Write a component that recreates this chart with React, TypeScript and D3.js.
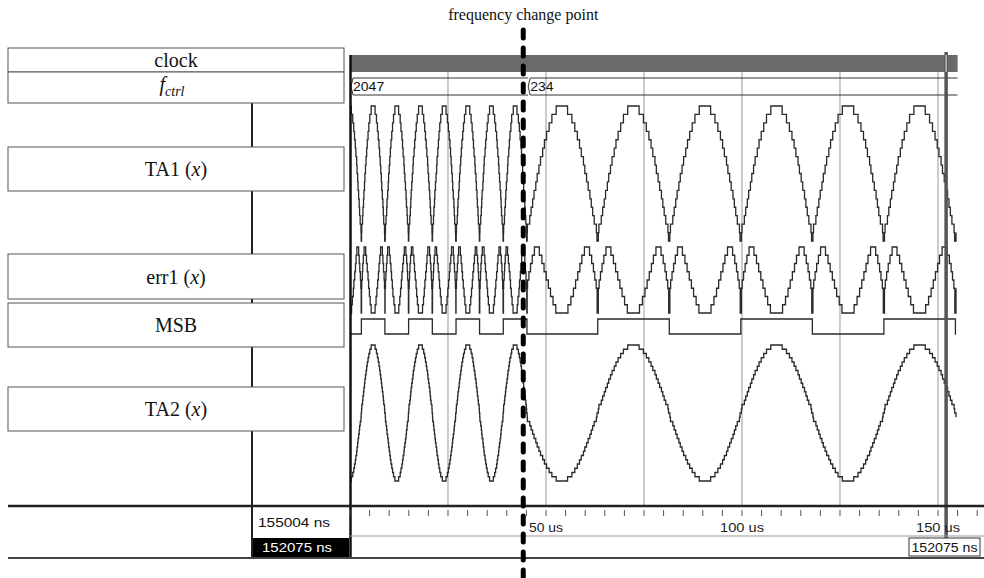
import * as d3 from 'd3';

// simulation window (us)
const SIM_END_US = 155.004;
const CURSOR_US = 152.075;
const CHANGE_MARK_US = 44.2;
const SAMPLE_US = 0.05;

// fctrl bus: value and the output period it gives (us per cycle)
const fctrlLabels = ['2047', '234'];
const fctrlStartUs = [0, 45.2];
const fctrlPeriodUs = [12.07, 36.5];
const startPhase = 0.763;

// TA1 magnitude: quarter-wave position where each of the 16 levels is reached
const ta1Thresholds = [0.02, 0.035, 0.1, 0.14, 0.18, 0.22, 0.27, 0.31, 0.36, 0.4, 0.46, 0.51, 0.57, 0.64, 0.72, 0.84];
// err1: quarter-wave position where each level starts, and that level (0..8)
const err1U = [0, 0.015, 0.04, 0.08, 0.12, 0.17, 0.23, 0.37, 0.44, 0.5, 0.56, 0.62, 0.68, 0.75, 0.83];
const err1Level = [0, 3, 4, 5, 6, 7, 8, 7, 6, 5, 4, 3, 2, 1, 0];

const gridUs = [25, 50, 75, 100, 125, 150];
const axisLabelUs = [50, 100, 150];
const nowLabel = '155004 ns';
const cursorLabel = '152075 ns';

type Sample = { t: number; ta1: number; err1: number; msb: number; ta2: number };

function buildSamples(): Sample[] {
  const out: Sample[] = [];
  let phase = startPhase;
  const n = Math.floor((SIM_END_US - 0.4) / SAMPLE_US);
  for (let i = 0; i <= n; i++) {
    const t = i * SAMPLE_US;
    let seg = 0;
    fctrlStartUs.forEach((s, k) => {
      if (t >= s) seg = k;
    });
    const p = phase % 1;
    const msb = p < 0.5 ? 1 : 0;
    const q = (p % 0.5) / 0.25;
    const u = q < 1 ? q : 2 - q;
    const ta1 = d3.bisectRight(ta1Thresholds, u);
    const err1 = err1Level[Math.max(0, d3.bisectRight(err1U, u) - 1)];
    out.push({ t, ta1, err1, msb, ta2: msb ? 16 + ta1 : 16 - ta1 });
    phase += SAMPLE_US / fctrlPeriodUs[seg];
  }
  return out;
}

const samples = buildSamples();

const xs = d3.scaleLinear().domain([0, SIM_END_US]).range([350, 957.6]);
const ticks = d3.range(0, 161, 5);

const rows = [
  { key: 'ta1', y: d3.scaleLinear().domain([0, 16]).range([241, 106]) },
  { key: 'err1', y: d3.scaleLinear().domain([0, 8]).range([313, 247]) },
  { key: 'msb', y: d3.scaleLinear().domain([0, 1]).range([334, 319]) },
  { key: 'ta2', y: d3.scaleLinear().domain([0, 32]).range([481, 345]) },
] as const;

const serif = "'Liberation Serif', 'Times New Roman', serif";
const sans = "'Liberation Sans', Arial, sans-serif";

function LabelBox({ y, h, children }: { y: number; h: number; children: React.ReactNode }) {
  return (
    <g>
      <rect x={8} y={y} width={336} height={h} fill="#fff" stroke="#555" strokeWidth={1} />
      <text x={176} y={y + h / 2 + 7} textAnchor="middle" fontSize={20} fontFamily={serif} fill="#111">
        {children}
      </text>
    </g>
  );
}

function SmallText(props: { x: number; y: number; w: number; anchor?: string; fill?: string; children: string }) {
  return (
    <text
      x={props.x}
      y={props.y}
      textAnchor={props.anchor ?? 'start'}
      fontSize={13}
      fontFamily={sans}
      fill={props.fill ?? '#111'}
      textLength={props.w}
      lengthAdjust="spacingAndGlyphs"
    >
      {props.children}
    </text>
  );
}

export default function App() {
  const xEnd = xs(SIM_END_US);
  const cursorX = xs(CURSOR_US);
  const markX = xs(CHANGE_MARK_US);

  return (
    <svg
      width={984}
      height={578}
      style={{ position: 'absolute', left: 0, top: 0, background: '#fff' }}
    >
      {/* grid */}
      {gridUs.map(g => (
        <line key={g} x1={xs(g)} x2={xs(g)} y1={72} y2={506} stroke="#9a9a9a" strokeWidth={1} />
      ))}

      {/* clock: too fast to resolve, drawn as a solid bar */}
      <rect x={xs(0)} y={55} width={xEnd - xs(0)} height={17} fill="#6a6a6a" />

      {/* fctrl bus */}
      {fctrlLabels.map((lab, i) => {
        const x0 = xs(fctrlStartUs[i]) + 1;
        const x1 = i + 1 < fctrlStartUs.length ? xs(fctrlStartUs[i + 1]) + 1 : xEnd;
        return (
          <g key={lab}>
            <path
              d={`M${x0},86.5 L${x0 + 2},78 L${x1},78 M${x0},86.5 L${x0 + 2},95 L${x1},95`}
              fill="none"
              stroke="#333"
              strokeWidth={1}
            />
            <SmallText x={x0 + 2} y={91} w={lab.length * 7.8}>
              {lab}
            </SmallText>
          </g>
        );
      })}

      {/* waveforms */}
      {rows.map(r => {
        const line = d3
          .line<Sample>()
          .x(d => xs(d.t))
          .y(d => r.y(d[r.key]))
          .curve(d3.curveStepAfter);
        return (
          <path key={r.key} d={line(samples) ?? ''} fill="none" stroke="#2a2a2a" strokeWidth={1.3} />
        );
      })}

      {/* cursor */}
      <line x1={cursorX} x2={cursorX} y1={52} y2={538} stroke="#555" strokeWidth={3.5} />
      <line x1={cursorX} x2={cursorX} y1={55} y2={72} stroke="#ddd" strokeWidth={1.2} />

      {/* left column */}
      <line x1={252} x2={252} y1={103} y2={558} stroke="#222" strokeWidth={2} />
      <LabelBox y={48} h={24}>clock</LabelBox>
      <g>
        <rect x={8} y={72} width={336} height={31} fill="#fff" stroke="#555" strokeWidth={1} />
        <text x={172} y={91} textAnchor="middle" fontSize={20} fontFamily={serif} fontStyle="italic" fill="#111">
          f
          <tspan fontSize={14} dy={5}>
            ctrl
          </tspan>
        </text>
      </g>
      <LabelBox y={147} h={44}>
        TA1 (<tspan fontStyle="italic">x</tspan>)
      </LabelBox>
      <LabelBox y={254} h={45}>
        err1 (<tspan fontStyle="italic">x</tspan>)
      </LabelBox>
      <LabelBox y={303} h={44}>
        MSB
      </LabelBox>
      <LabelBox y={387} h={44}>
        TA2 (<tspan fontStyle="italic">x</tspan>)
      </LabelBox>

      {/* waveform pane left border */}
      <line x1={350.5} x2={350.5} y1={55} y2={558} stroke="#111" strokeWidth={2.5} />

      {/* time pane */}
      <line x1={8} x2={984} y1={506} y2={506} stroke="#222" strokeWidth={2.5} />
      <line x1={350} x2={984} y1={536} y2={536} stroke="#999" strokeWidth={1} />
      <line x1={8} x2={984} y1={558} y2={558} stroke="#444" strokeWidth={2} />
      {ticks.map(t => (
        <line key={t} x1={xs(t)} x2={xs(t)} y1={510} y2={516} stroke="#555" strokeWidth={1} />
      ))}
      {axisLabelUs.map(t => (
        <SmallText key={t} x={xs(t)} y={532} anchor="middle" w={t < 100 ? 34 : 44} fill="#222">
          {`${t} us`}
        </SmallText>
      ))}
      <SmallText x={258} y={527} w={72}>
        {nowLabel}
      </SmallText>
      <rect x={253} y={538} width={96} height={19} fill="#000" />
      <SmallText x={262} y={552} w={70} fill="#fff">
        {cursorLabel}
      </SmallText>
      <rect x={909} y={538} width={71} height={18} fill="#fff" stroke="#333" strokeWidth={1} />
      <SmallText x={944.5} y={552} anchor="middle" w={66}>
        {cursorLabel}
      </SmallText>

      {/* frequency change annotation */}
      <line
        x1={markX}
        x2={markX}
        y1={30}
        y2={580}
        stroke="#000"
        strokeWidth={5}
        strokeDasharray="8 10"
        strokeLinecap="round"
      />
      <text x={markX} y={20} textAnchor="middle" fontSize={16} fontFamily={serif} fill="#111">
        frequency change point
      </text>
    </svg>
  );
}
